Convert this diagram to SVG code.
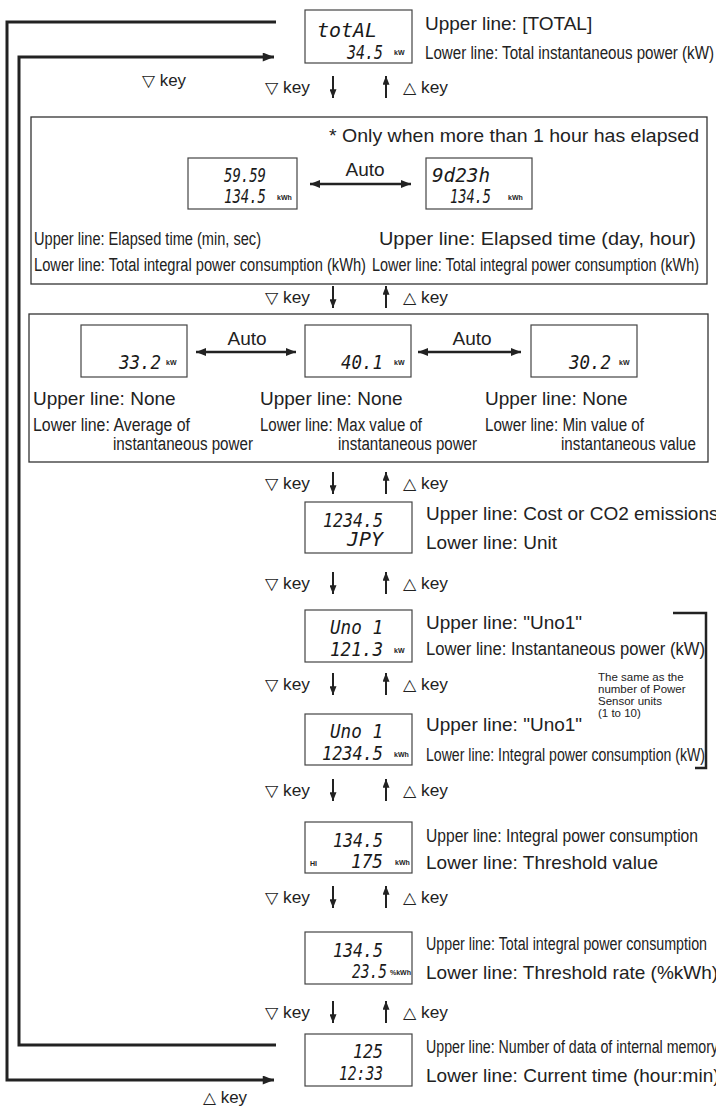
<svg xmlns="http://www.w3.org/2000/svg" width="716" height="1106" viewBox="0 0 716 1106">
<style>
.lbl{font-family:"Liberation Sans",Arial,sans-serif;font-size:19px;fill:#222}
.nar{font-family:"Liberation Sans",Arial,sans-serif;font-size:18px;fill:#222}
.sm{font-family:"Liberation Sans",Arial,sans-serif;font-size:11.5px;fill:#222}
.key{font-family:"Liberation Sans","DejaVu Sans",sans-serif;font-size:16px;fill:#222}
.lcd{font-family:"DejaVu Sans Mono",monospace;font-style:italic;font-size:20px;fill:#1a1a1a}
.unit{font-family:"Liberation Sans",Arial,sans-serif;font-size:7px;font-weight:bold;fill:#222}
.box{fill:#fff;stroke:#444;stroke-width:1.2}
.grp{fill:none;stroke:#333;stroke-width:1.3}
.loop{fill:none;stroke:#222;stroke-width:3}
.ka{stroke:#222;stroke-width:2}
.dbl{stroke:#222;stroke-width:2.5}
.brk{fill:none;stroke:#222;stroke-width:2.5}
</style>
<defs>
<marker id="mk" viewBox="0 0 10 8" refX="10" refY="4" markerWidth="9" markerHeight="7" markerUnits="userSpaceOnUse" orient="auto-start-reverse"><path d="M0,0L10,4L0,8z" fill="#222"/></marker>
<marker id="mkl" viewBox="0 0 10 8" refX="10" refY="4" markerWidth="14" markerHeight="9" markerUnits="userSpaceOnUse" orient="auto-start-reverse"><path d="M0,0L10,4L0,8z" fill="#222"/></marker>
<marker id="mkd" viewBox="0 0 10 8" refX="10" refY="4" markerWidth="12" markerHeight="8" markerUnits="userSpaceOnUse" orient="auto-start-reverse"><path d="M0,0L10,4L0,8z" fill="#222"/></marker>
</defs>
<rect width="716" height="1106" fill="#fff"/>

<g id="connectors">
  <path class="loop" d="M276,22 H7 V1080 H274" marker-end="url(#mkl)"/>
  <path class="loop" d="M276,1045 H19 V57 H274" marker-end="url(#mkl)"/>
  <text class="key" x="142" y="86" textLength="44" lengthAdjust="spacingAndGlyphs">▽ key</text>
  <text class="key" x="203" y="1103" textLength="44" lengthAdjust="spacingAndGlyphs">△ key</text>

  <g id="keyrow1">
    <text class="key" x="265" y="93" textLength="45" lengthAdjust="spacingAndGlyphs">▽ key</text>
    <line class="ka" x1="333" y1="76" x2="333" y2="98" marker-end="url(#mk)"/>
    <line class="ka" x1="386" y1="98" x2="386" y2="76" marker-end="url(#mk)"/>
    <text class="key" x="403" y="93" textLength="45" lengthAdjust="spacingAndGlyphs">△ key</text>
  </g>
  <g id="keyrow2">
    <text class="key" x="265" y="303" textLength="45" lengthAdjust="spacingAndGlyphs">▽ key</text>
    <line class="ka" x1="333" y1="286" x2="333" y2="308" marker-end="url(#mk)"/>
    <line class="ka" x1="386" y1="308" x2="386" y2="286" marker-end="url(#mk)"/>
    <text class="key" x="403" y="303" textLength="45" lengthAdjust="spacingAndGlyphs">△ key</text>
  </g>
  <g id="keyrow3">
    <text class="key" x="265" y="489" textLength="45" lengthAdjust="spacingAndGlyphs">▽ key</text>
    <line class="ka" x1="333" y1="472" x2="333" y2="494" marker-end="url(#mk)"/>
    <line class="ka" x1="386" y1="494" x2="386" y2="472" marker-end="url(#mk)"/>
    <text class="key" x="403" y="489" textLength="45" lengthAdjust="spacingAndGlyphs">△ key</text>
  </g>
  <g id="keyrow4">
    <text class="key" x="265" y="589" textLength="45" lengthAdjust="spacingAndGlyphs">▽ key</text>
    <line class="ka" x1="333" y1="572" x2="333" y2="594" marker-end="url(#mk)"/>
    <line class="ka" x1="386" y1="594" x2="386" y2="572" marker-end="url(#mk)"/>
    <text class="key" x="403" y="589" textLength="45" lengthAdjust="spacingAndGlyphs">△ key</text>
  </g>
  <g id="keyrow5">
    <text class="key" x="265" y="690" textLength="45" lengthAdjust="spacingAndGlyphs">▽ key</text>
    <line class="ka" x1="333" y1="673" x2="333" y2="695" marker-end="url(#mk)"/>
    <line class="ka" x1="386" y1="695" x2="386" y2="673" marker-end="url(#mk)"/>
    <text class="key" x="403" y="690" textLength="45" lengthAdjust="spacingAndGlyphs">△ key</text>
  </g>
  <g id="keyrow6">
    <text class="key" x="265" y="796" textLength="45" lengthAdjust="spacingAndGlyphs">▽ key</text>
    <line class="ka" x1="333" y1="779" x2="333" y2="801" marker-end="url(#mk)"/>
    <line class="ka" x1="386" y1="801" x2="386" y2="779" marker-end="url(#mk)"/>
    <text class="key" x="403" y="796" textLength="45" lengthAdjust="spacingAndGlyphs">△ key</text>
  </g>
  <g id="keyrow7">
    <text class="key" x="265" y="903" textLength="45" lengthAdjust="spacingAndGlyphs">▽ key</text>
    <line class="ka" x1="333" y1="886" x2="333" y2="908" marker-end="url(#mk)"/>
    <line class="ka" x1="386" y1="908" x2="386" y2="886" marker-end="url(#mk)"/>
    <text class="key" x="403" y="903" textLength="45" lengthAdjust="spacingAndGlyphs">△ key</text>
  </g>
  <g id="keyrow8">
    <text class="key" x="265" y="1018" textLength="45" lengthAdjust="spacingAndGlyphs">▽ key</text>
    <line class="ka" x1="333" y1="1001" x2="333" y2="1023" marker-end="url(#mk)"/>
    <line class="ka" x1="386" y1="1023" x2="386" y2="1001" marker-end="url(#mk)"/>
    <text class="key" x="403" y="1018" textLength="45" lengthAdjust="spacingAndGlyphs">△ key</text>
  </g>

  <line class="dbl" x1="310" y1="184" x2="411" y2="184" marker-start="url(#mkd)" marker-end="url(#mkd)"/>
  <text class="lbl" x="365" y="176" text-anchor="middle">Auto</text>
  <line class="dbl" x1="196" y1="352" x2="296" y2="352" marker-start="url(#mkd)" marker-end="url(#mkd)"/>
  <text class="lbl" x="247" y="345" text-anchor="middle">Auto</text>
  <line class="dbl" x1="418" y1="352" x2="521" y2="352" marker-start="url(#mkd)" marker-end="url(#mkd)"/>
  <text class="lbl" x="472" y="345" text-anchor="middle">Auto</text>

  <path class="brk" d="M673,613 H706 V768 H695"/>
</g>

<g id="n-total">
  <rect class="box" x="305" y="10" width="107" height="53"/>
  <text class="lcd" x="317" y="37" textLength="60" lengthAdjust="spacingAndGlyphs">totAL</text>
  <text class="lcd" x="347" y="59" textLength="36" lengthAdjust="spacingAndGlyphs">34.5</text>
  <text class="unit" x="394" y="55">kW</text>
  <text class="lbl" x="425" y="30">Upper line: [TOTAL]</text>
  <text class="nar" x="425" y="59" textLength="289" lengthAdjust="spacingAndGlyphs">Lower line: Total instantaneous power (kW)</text>
</g>

<g id="n-elapsed">
  <rect class="grp" x="31" y="117" width="676" height="167"/>
  <text class="lbl" x="329" y="142" textLength="370" lengthAdjust="spacingAndGlyphs">* Only when more than 1 hour has elapsed</text>
  <rect class="box" x="188" y="158" width="109" height="51"/>
  <text class="lcd" x="224" y="182" textLength="42" lengthAdjust="spacingAndGlyphs">59.59</text>
  <text class="lcd" x="224" y="203" textLength="42" lengthAdjust="spacingAndGlyphs">134.5</text>
  <text class="unit" x="277" y="200">kWh</text>
  <rect class="box" x="426" y="158" width="106" height="51"/>
  <text class="lcd" x="432" y="182" textLength="58" lengthAdjust="spacingAndGlyphs">9d23h</text>
  <text class="lcd" x="450" y="203" textLength="41" lengthAdjust="spacingAndGlyphs">134.5</text>
  <text class="unit" x="508" y="200">kWh</text>
  <text class="nar" x="34" y="245" textLength="227" lengthAdjust="spacingAndGlyphs">Upper line: Elapsed time (min, sec)</text>
  <text class="lbl" x="379" y="245" textLength="317" lengthAdjust="spacingAndGlyphs">Upper line: Elapsed time (day, hour)</text>
  <text class="nar" x="34" y="271" textLength="332" lengthAdjust="spacingAndGlyphs">Lower line: Total integral power consumption (kWh)</text>
  <text class="nar" x="372" y="271" textLength="327" lengthAdjust="spacingAndGlyphs">Lower line: Total integral power consumption (kWh)</text>
</g>

<g id="n-avgmaxmin">
  <rect class="grp" x="29" y="314" width="679" height="148"/>
  <rect class="box" x="81" y="325" width="106" height="52"/>
  <text class="lcd" x="119" y="369" textLength="42" lengthAdjust="spacingAndGlyphs">33.2</text>
  <text class="unit" x="166" y="365">kW</text>
  <rect class="box" x="305" y="325" width="106" height="52"/>
  <text class="lcd" x="341" y="369" textLength="42" lengthAdjust="spacingAndGlyphs">40.1</text>
  <text class="unit" x="394" y="365">kW</text>
  <rect class="box" x="531" y="325" width="106" height="52"/>
  <text class="lcd" x="569" y="369" textLength="42" lengthAdjust="spacingAndGlyphs">30.2</text>
  <text class="unit" x="619" y="365">kW</text>
  <text class="lbl" x="33" y="405">Upper line: None</text>
  <text class="lbl" x="260" y="405">Upper line: None</text>
  <text class="lbl" x="485" y="405">Upper line: None</text>
  <text class="nar" x="33" y="431" textLength="157" lengthAdjust="spacingAndGlyphs">Lower line: Average of</text>
  <text class="nar" x="113" y="450" textLength="140" lengthAdjust="spacingAndGlyphs">instantaneous power</text>
  <text class="nar" x="260" y="431" textLength="162" lengthAdjust="spacingAndGlyphs">Lower line: Max value of</text>
  <text class="nar" x="338" y="450" textLength="139" lengthAdjust="spacingAndGlyphs">instantaneous power</text>
  <text class="nar" x="485" y="431" textLength="159" lengthAdjust="spacingAndGlyphs">Lower line: Min value of</text>
  <text class="nar" x="561" y="450" textLength="135" lengthAdjust="spacingAndGlyphs">instantaneous value</text>
</g>

<g id="n-cost">
  <rect class="box" x="305" y="502" width="107" height="51"/>
  <text class="lcd" x="323" y="527" textLength="60" lengthAdjust="spacingAndGlyphs">1234.5</text>
  <text class="lcd" x="347" y="546" textLength="36" lengthAdjust="spacingAndGlyphs">JPY</text>
  <text class="lbl" x="426" y="520">Upper line: Cost or CO2 emissions</text>
  <text class="lbl" x="426" y="549">Lower line: Unit</text>
</g>

<g id="n-uno-power">
  <rect class="box" x="305" y="610" width="107" height="52"/>
  <text class="lcd" x="330" y="634" textLength="53" lengthAdjust="spacingAndGlyphs">Uno 1</text>
  <text class="lcd" x="330" y="656" textLength="53" lengthAdjust="spacingAndGlyphs">121.3</text>
  <text class="unit" x="394" y="653">kW</text>
  <text class="lbl" x="426" y="629">Upper line: "Uno1"</text>
  <text class="nar" x="426" y="655" textLength="279" lengthAdjust="spacingAndGlyphs">Lower line: Instantaneous power (kW)</text>
</g>

<g id="n-note">
  <text class="sm" x="598" y="681">The same as the</text>
  <text class="sm" x="598" y="693">number of Power</text>
  <text class="sm" x="598" y="705">Sensor units</text>
  <text class="sm" x="598" y="717">(1 to 10)</text>
</g>

<g id="n-uno-energy">
  <rect class="box" x="305" y="714" width="107" height="51"/>
  <text class="lcd" x="330" y="738" textLength="53" lengthAdjust="spacingAndGlyphs">Uno 1</text>
  <text class="lcd" x="322" y="760" textLength="61" lengthAdjust="spacingAndGlyphs">1234.5</text>
  <text class="unit" x="394" y="757">kWh</text>
  <text class="lbl" x="426" y="731">Upper line: "Uno1"</text>
  <text class="nar" x="426" y="761" textLength="279" lengthAdjust="spacingAndGlyphs">Lower line: Integral power consumption (kW)</text>
</g>

<g id="n-threshold">
  <rect class="box" x="305" y="822" width="107" height="51"/>
  <text class="lcd" x="333" y="847" textLength="50" lengthAdjust="spacingAndGlyphs">134.5</text>
  <text class="unit" x="310" y="866" font-size="5">HI</text>
  <text class="lcd" x="351" y="868" textLength="32" lengthAdjust="spacingAndGlyphs">175</text>
  <text class="unit" x="395" y="865">kWh</text>
  <text class="lbl" x="426" y="842" textLength="272" lengthAdjust="spacingAndGlyphs">Upper line: Integral power consumption</text>
  <text class="lbl" x="426" y="869">Lower line: Threshold value</text>
</g>

<g id="n-rate">
  <rect class="box" x="305" y="932" width="107" height="52"/>
  <text class="lcd" x="333" y="957" textLength="50" lengthAdjust="spacingAndGlyphs">134.5</text>
  <text class="lcd" x="352" y="978" textLength="35" lengthAdjust="spacingAndGlyphs">23.5</text>
  <text class="unit" x="390" y="975">%kWh</text>
  <text class="nar" x="426" y="950" textLength="281" lengthAdjust="spacingAndGlyphs">Upper line: Total integral power consumption</text>
  <text class="lbl" x="426" y="979">Lower line: Threshold rate (%kWh)</text>
</g>

<g id="n-memory">
  <rect class="box" x="305" y="1034" width="107" height="52"/>
  <text class="lcd" x="353" y="1058" textLength="30" lengthAdjust="spacingAndGlyphs">125</text>
  <text class="lcd" x="339" y="1080" textLength="44" lengthAdjust="spacingAndGlyphs">12:33</text>
  <text class="nar" x="426" y="1053" textLength="292" lengthAdjust="spacingAndGlyphs">Upper line: Number of data of internal memory</text>
  <text class="lbl" x="426" y="1082">Lower line: Current time (hour:min)</text>
</g>
</svg>
